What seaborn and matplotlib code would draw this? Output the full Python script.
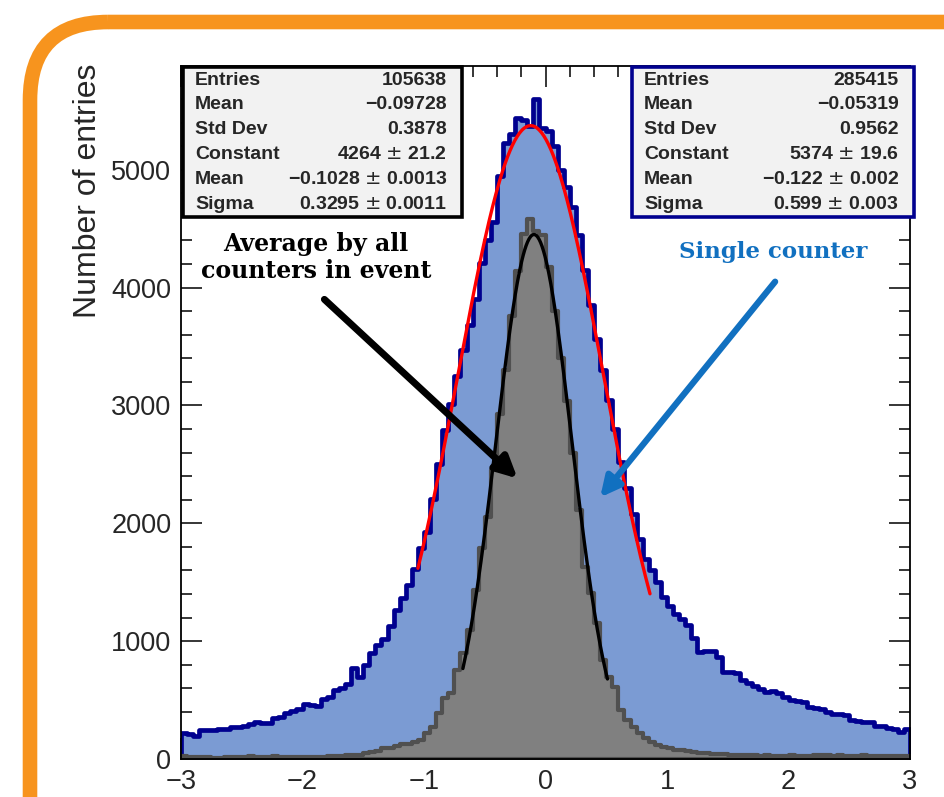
import numpy as np
import matplotlib
matplotlib.use("Agg")
import matplotlib.pyplot as plt
import seaborn as sns
from matplotlib.patches import FancyBboxPatch, Rectangle
from matplotlib.ticker import MultipleLocator

sns.set_theme(style="ticks")
plt.rcParams['font.family'] = ['Liberation Sans', 'DejaVu Sans']

# ---------------- data ----------------
x_min, x_max, n_bins = -3.0, 3.0, 120

single_counts = [
    218, 215, 198, 246, 246, 250, 252, 255, 274, 268,
    280, 294, 311, 305, 302, 350, 355, 387, 410, 424,
    463, 455, 452, 506, 523, 585, 599, 633, 769, 698,
    800, 900, 970, 1020, 1130, 1260, 1370, 1480, 1610, 1790,
    1930, 2210, 2500, 2790, 3010, 3250, 3470, 3680, 3900, 4210,
    4400, 4560, 4950, 5230, 5305, 5440, 5420, 5370, 5600, 5350,
    5330, 5200, 5000, 4850, 4680, 4450, 4150, 3850, 3560, 3300,
    3050, 2800, 2520, 2300, 2080, 1870, 1700, 1600, 1503, 1375,
    1300, 1234, 1184, 1136, 1023, 910, 918, 915, 867, 740,
    735, 726, 669, 647, 620, 590, 571, 576, 560, 528,
    500, 490, 486, 443, 429, 420, 401, 380, 379, 375,
    331, 325, 316, 310, 282, 280, 260, 255, 231, 252,
]

average_counts = [
    22, 20, 18, 20, 15, 12, 12, 15, 18, 20,
    20, 22, 20, 18, 20, 22, 20, 18, 15, 15,
    15, 18, 20, 18, 22, 25, 28, 30, 32, 35,
    55, 62, 65, 90, 95, 110, 127, 130, 147, 161,
    220, 274, 390, 517, 559, 754, 898, 1093, 1432, 1788,
    2053, 2450, 2930, 3300, 3763, 4144, 4457, 4585, 4480, 4450,
    4172, 3805, 3400, 3040, 2600, 2110, 1630, 1406, 1152, 839,
    698, 613, 415, 330, 274, 220, 180, 147, 120, 104,
    95, 80, 76, 70, 60, 52, 50, 45, 42, 40,
    38, 35, 32, 30, 30, 28, 30, 28, 25, 28,
    30, 28, 25, 28, 30, 32, 30, 28, 30, 28,
    25, 28, 30, 28, 25, 22, 25, 28, 25, 22,
]

# Gaussian curves as drawn (amplitude, mean, sigma) and their x ranges
single_curve = (5374.0, -0.122, 0.599)
single_curve_range = (-1.05, 0.86)
average_curve = (4450.0, -0.095, 0.312)
average_curve_range = (-0.68, 0.51)

stats_average = [("Entries", "105638"), ("Mean", "\u22120.09728"), ("Std Dev", "0.3878"),
                 ("Constant", "4264 $\\pm$ 21.2"), ("Mean", "\u22120.1028 $\\pm$ 0.0013"),
                 ("Sigma", "0.3295 $\\pm$ 0.0011")]
stats_single = [("Entries", "285415"), ("Mean", "\u22120.05319"), ("Std Dev", "0.9562"),
                ("Constant", "5374 $\\pm$ 19.6"), ("Mean", "\u22120.122 $\\pm$ 0.002"),
                ("Sigma", "0.599 $\\pm$ 0.003")]

# ---------------- figure ----------------
W, H = 944, 797
fig = plt.figure(figsize=(W / 100, H / 100), dpi=100)
fig.patch.set_facecolor("white")

ax_l, ax_r, ax_t, ax_b = 181, 910, 66, 759
ax = fig.add_axes([ax_l / W, 1 - ax_b / H, (ax_r - ax_l) / W, (ax_b - ax_t) / H])
ax.set_facecolor("white")

edges = np.linspace(x_min, x_max, n_bins + 1)
centers = 0.5 * (edges[:-1] + edges[1:])

sns.histplot(x=centers, weights=single_counts, bins=edges.tolist(), element="step", fill=True,
             color="#7b9bd3", alpha=1.0, edgecolor="#00008f", linewidth=3.4, ax=ax)
sns.histplot(x=centers, weights=average_counts, bins=edges.tolist(), element="step", fill=True,
             color="#808080", alpha=1.0, edgecolor="#505050", linewidth=3.0, ax=ax)


def gauss_curve(params, rng):
    c, m, s = params
    xs = np.linspace(rng[0], rng[1], 200)
    return xs, c * np.exp(-0.5 * ((xs - m) / s) ** 2)


xs1, ys1 = gauss_curve(single_curve, single_curve_range)
xs2, ys2 = gauss_curve(average_curve, average_curve_range)
sns.lineplot(x=xs1, y=ys1, color="#ff0000", linewidth=2.4, ax=ax)
sns.lineplot(x=xs2, y=ys2, color="black", linewidth=2.4, ax=ax)

ax.set_xlim(x_min, x_max)
ax.set_ylim(0, 5880)
ax.set_xlabel("")
ax.set_ylabel("")
ax.xaxis.set_major_locator(MultipleLocator(1))
ax.xaxis.set_minor_locator(MultipleLocator(0.2))
ax.yaxis.set_major_locator(MultipleLocator(1000))
ax.yaxis.set_minor_locator(MultipleLocator(200))
ax.tick_params(which="both", direction="in", top=True, right=True, color="black", width=1.1)
ax.tick_params(which="major", length=15, labelsize=19.5, pad=7)
ax.tick_params(which="minor", length=8)
for sp in ax.spines.values():
    sp.set_visible(True)
    sp.set_color("black")
    sp.set_linewidth(1.3)

# arrows (data coordinates)
ax.annotate("", xy=(-0.23, 2380), xytext=(-1.82, 3900),
            arrowprops=dict(arrowstyle="-|>", lw=5, color="black", mutation_scale=32,
                            shrinkA=0, shrinkB=0))
ax.annotate("", xy=(0.45, 2220), xytext=(1.89, 4050),
            arrowprops=dict(arrowstyle="-|>", lw=4.5, color="#1170c0", mutation_scale=30,
                            shrinkA=0, shrinkB=0))
ax.text(-1.89, 4255, "Average by all\ncounters in event", ha="center", va="center",
        fontsize=17, fontweight="bold", family="DejaVu Serif", linespacing=1.2, color="black")
ax.text(1.87, 4300, "Single counter", ha="center", va="center",
        fontsize=16.5, fontweight="bold", family="DejaVu Serif", color="#1170c0")

# overlay in pixel coordinates
ov = fig.add_axes([0, 0, 1, 1], zorder=5)
ov.set_xlim(0, W)
ov.set_ylim(H, 0)
ov.axis("off")
ov.patch.set_alpha(0)

ov.add_patch(FancyBboxPatch((30, 22), 1200, 1100, boxstyle="round,pad=0,rounding_size=78",
                            linewidth=10.5, edgecolor="#f7941e", facecolor="none"))


def stat_box(x0, x1, y0, y1, rows, ec):
    ov.add_patch(Rectangle((x0, y0), x1 - x0, y1 - y0, facecolor="#f2f2f2",
                           edgecolor=ec, linewidth=2.6))
    row_y = np.linspace(y0 + 13, y1 - 13, len(rows))
    for (lab, val), yy in zip(rows, row_y):
        ov.text(x0 + 12, yy, lab, ha="left", va="center", fontsize=14, fontweight="bold")
        ov.text(x1 - 15, yy, val, ha="right", va="center", fontsize=14, fontweight="bold")


stat_box(183, 462, 67, 217, stats_average, "black")
stat_box(632, 914, 67, 217, stats_single, "#00008f")

ov.text(88, 64, "Number of entries", rotation=90, ha="center", va="top", fontsize=23)

fig.savefig("out.png", dpi=100)
